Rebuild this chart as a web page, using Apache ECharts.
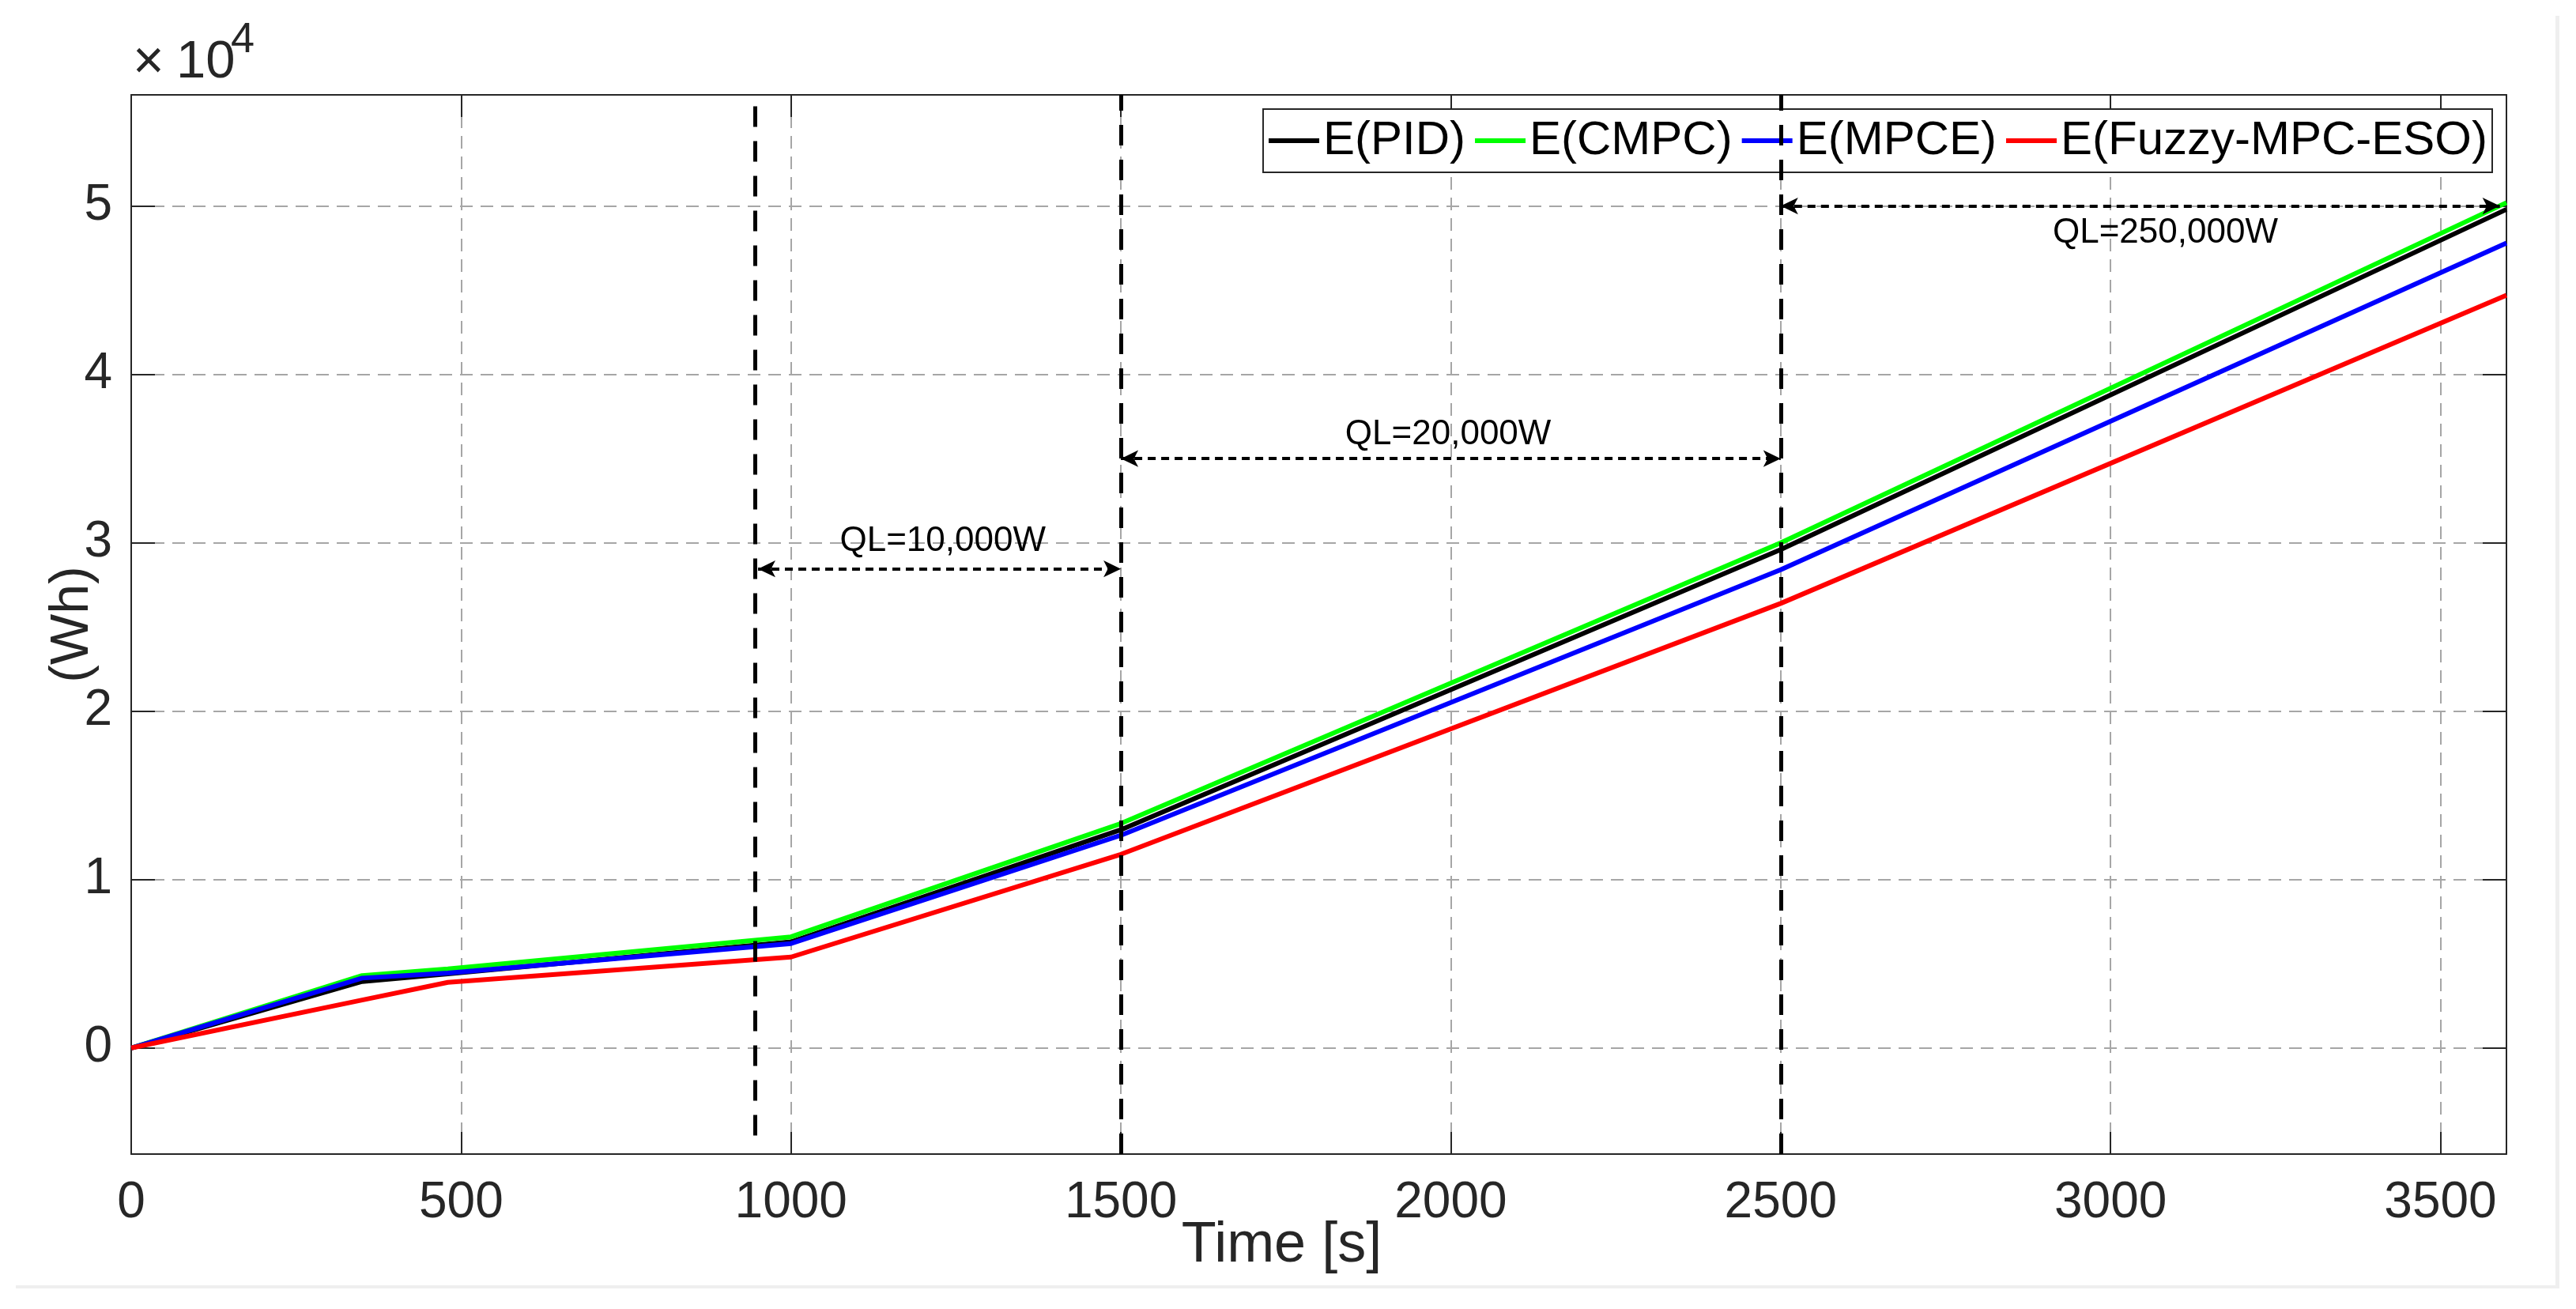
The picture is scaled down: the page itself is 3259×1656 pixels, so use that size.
<!DOCTYPE html>
<html>
<head>
    <meta charset="utf-8">
    <title>Energy</title>
    <script src="https://cdn.jsdelivr.net/npm/echarts@6/dist/echarts.min.js"></script>
    <style>
        html, body { margin: 0; padding: 0; background: #fff; }
    </style>
</head>
<body>
<div id="main" style="width: 3259px; height: 1656px;"></div>

<script type="text/javascript">
    // data (time in s, energy in Wh)
    var timeS  = [0, 350, 480, 1000, 1500, 2500, 3600];
    var ePID   = [0, 3950, 4400, 6300, 12960, 29600, 49800];
    var eCMPC  = [0, 4300, 4700, 6600, 13330, 30000, 50200];
    var eMPCE  = [0, 4150, 4450, 6200, 12630, 28400, 47800];
    var eFuzzy = [0, 2850, 3900, 5400, 11500, 26400, 44700];

    var seriesNames  = ['E(PID)', 'E(CMPC)', 'E(MPCE)', 'E(Fuzzy-MPC-ESO)'];
    var seriesColors = ['#000000', '#00ff00', '#0000ff', '#ff0000'];

    // load change markers
    var switchTimes  = [945, 1500, 2500];
    var switchBottom = [-5200, -6300, -6300];

    var loadLabels = ['QL=10,000W', 'QL=20,000W', 'QL=250,000W'];
    var loadStart  = [950, 1500, 2500];
    var loadEnd    = [1500, 2500, 3590];
    var loadLevel  = [28450, 35000, 50000];
    var labelX     = [1230, 1996, 3083];
    var labelY     = [30100, 36400, 48400];

    var yMin = -6300, yMax = 56600;
    var fontFam = '"Liberation Sans", Arial, Helvetica, sans-serif';
    var axisColor = '#262626';

    function pairs (xs, ys) {
        var out = [];
        for (var i = 0; i < xs.length; i++) {
            out.push([xs[i], ys[i]]);
        }
        return out;
    }

    var myChart = echarts.init(document.getElementById('main'));

    var vLines = [];
    for (var i = 0; i < switchTimes.length; i++) {
        vLines.push([
            { coord: [switchTimes[i], switchBottom[i]] },
            { coord: [switchTimes[i], yMax] }
        ]);
    }

    var arrows = [];
    for (var j = 0; j < loadLabels.length; j++) {
        arrows.push([
            { coord: [loadStart[j], loadLevel[j]] },
            { coord: [loadEnd[j], loadLevel[j]] }
        ]);
    }

    var notes = [];
    for (var k = 0; k < loadLabels.length; k++) {
        notes.push({ coord: [labelX[k], labelY[k]], value: loadLabels[k] });
    }

    var allValues = [ePID, eCMPC, eMPCE, eFuzzy];
    var series = [];
    for (var s = 0; s < allValues.length; s++) {
        series.push({
            name: seriesNames[s],
            type: 'line',
            data: pairs(timeS, allValues[s]),
            showSymbol: false,
            symbol: 'none',
            lineStyle: { color: seriesColors[s], width: 6 },
            itemStyle: { color: seriesColors[s] },
            z: 3
        });
    }

    // dashed switching lines, arrows and their labels
    series.push({
        name: 'marks',
        type: 'line',
        data: [],
        silent: true,
        z: 4,
        markLine: {
            silent: true,
            symbol: 'none',
            animation: false,
            label: { show: false },
            lineStyle: { color: '#000', width: 5, type: [26, 18] },
            data: vLines
        }
    });
    series.push({
        name: 'arrows',
        type: 'line',
        data: [],
        silent: true,
        z: 4,
        markLine: {
            silent: true,
            symbol: ['arrow', 'arrow'],
            symbolSize: [16, 22],
            animation: false,
            label: { show: false },
            lineStyle: { color: '#000', width: 4, type: [10, 7], opacity: 1 },
            data: arrows
        },
        markPoint: {
            silent: true,
            symbol: 'rect',
            symbolSize: [1, 1],
            animation: false,
            itemStyle: { color: 'rgba(0,0,0,0)' },
            label: {
                show: true,
                position: 'inside',
                color: '#000',
                fontSize: 44,
                fontFamily: fontFam,
                formatter: function (p) { return p.value; }
            },
            data: notes
        }
    });

    var option = {
        backgroundColor: '#ffffff',
        animation: false,
        textStyle: { fontFamily: fontFam },
        grid: { left: 166, right: 88, top: 120, bottom: 196 },
        legend: {
            data: seriesNames,
            right: 106,
            top: 138,
            orient: 'horizontal',
            padding: [10, 6, 10, 7],
            itemGap: 12,
            icon: 'rect',
            itemWidth: 64,
            itemHeight: 6,
            borderColor: axisColor,
            borderWidth: 2,
            borderRadius: 0,
            backgroundColor: '#ffffff',
            textStyle: { fontSize: 60, color: '#000', fontFamily: fontFam }
        },
        xAxis: [
            {
                type: 'value',
                min: 0,
                max: 3600,
                interval: 500,
                position: 'bottom',
                name: 'Time [s]',
                nameLocation: 'middle',
                nameGap: 80,
                nameMoveOverlap: false,
                nameTextStyle: { fontSize: 72, color: axisColor, padding: [0, 94, 0, 0] },
                axisLine: { show: true, onZero: false, lineStyle: { color: axisColor, width: 2 } },
                axisTick: { show: true, inside: true, length: 28, lineStyle: { color: axisColor, width: 2 } },
                axisLabel: {
                    fontSize: 64,
                    color: axisColor,
                    margin: 30,
                    showMaxLabel: false,
                    formatter: function (v) { return String(v); }
                },
                splitLine: { show: true, lineStyle: { color: '#a6a6a6', width: 2, type: [16, 10] } }
            },
            {
                type: 'value',
                min: 0,
                max: 3600,
                interval: 500,
                position: 'top',
                axisLine: { show: true, onZero: false, lineStyle: { color: axisColor, width: 2 } },
                axisTick: { show: true, inside: true, length: 28, lineStyle: { color: axisColor, width: 2 } },
                axisLabel: { show: false },
                splitLine: { show: false }
            }
        ],
        yAxis: [
            {
                type: 'value',
                min: yMin,
                max: yMax,
                splitNumber: 5,
                position: 'left',
                name: '(Wh)',
                nameLocation: 'middle',
                nameRotate: 90,
                nameGap: 40,
                nameMoveOverlap: false,
                nameTextStyle: { fontSize: 68, color: axisColor },
                axisLine: { show: true, onZero: false, lineStyle: { color: axisColor, width: 2 } },
                axisTick: { show: true, inside: true, length: 30, lineStyle: { color: axisColor, width: 2 } },
                axisLabel: {
                    fontSize: 64,
                    color: axisColor,
                    margin: 24,
                    showMinLabel: false,
                    showMaxLabel: false,
                    formatter: function (v) { return String(Math.round(v / 1000) / 10); }
                },
                splitLine: { show: true, lineStyle: { color: '#a6a6a6', width: 2, type: [16, 10] } }
            },
            {
                type: 'value',
                min: yMin,
                max: yMax,
                splitNumber: 5,
                position: 'right',
                axisLine: { show: true, onZero: false, lineStyle: { color: axisColor, width: 2 } },
                axisTick: { show: true, inside: true, length: 30, lineStyle: { color: axisColor, width: 2 } },
                axisLabel: { show: false },
                splitLine: { show: false }
            }
        ],
        graphic: [
            {
                type: 'text',
                left: 168,
                top: 46,
                style: { text: '\u00d7', fontSize: 68, fontFamily: fontFam, fill: axisColor }
            },
            {
                type: 'text',
                left: 223,
                top: 46,
                style: { text: '10', fontSize: 67, fontFamily: fontFam, fill: axisColor }
            },
            {
                type: 'text',
                left: 292,
                top: 24,
                style: { text: '4', fontSize: 54, fontFamily: fontFam, fill: axisColor }
            },
            {
                type: 'rect',
                shape: { x: 3233, y: 20, width: 5, height: 1610 },
                style: { fill: '#efefef' },
                silent: true
            },
            {
                type: 'rect',
                shape: { x: 20, y: 1626, width: 3218, height: 4 },
                style: { fill: '#efefef' },
                silent: true
            }
        ],
        series: series
    };

    myChart.setOption(option);
</script>
</body>
</html>
